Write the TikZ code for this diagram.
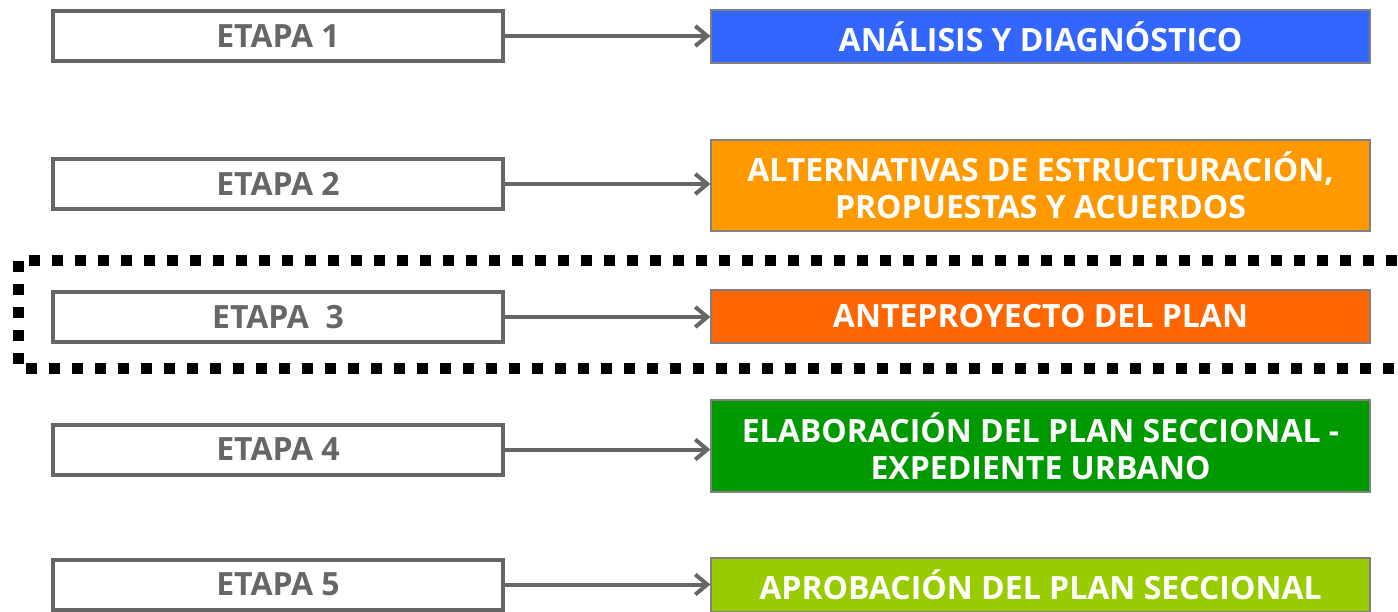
\documentclass[tikz,border=0pt]{standalone}
\usepackage{fontspec}
\setmainfont{Open Sans}
\usetikzlibrary{arrows.meta, positioning}

\begin{document}
\begin{tikzpicture}[x=1pt, y=-1pt, >={Straight Barb[length=12pt, width=20pt]}]

    % Define colors
    \definecolor{frame_gray}{RGB}{102, 102, 102}
    \definecolor{edge_gray}{RGB}{128, 128, 128}
    \definecolor{fase_blue}{RGB}{51, 102, 255}
    \definecolor{fase_orange}{RGB}{255, 153, 0}
    \definecolor{fase_red}{RGB}{255, 102, 0}
    \definecolor{fase_green}{RGB}{0, 153, 0}
    \definecolor{fase_lime}{RGB}{153, 204, 0}

    \tikzset{
        etapa/.style={draw=frame_gray, line width=4pt, minimum width=450pt, minimum height=50pt,
            inner sep=0pt, text=frame_gray, font=\fontsize{32}{37}\selectfont\bfseries},
        fase/.style={draw=edge_gray, line width=1.2pt, minimum width=659pt, inner sep=0pt,
            align=center, text=white, font=\fontsize{32}{37}\selectfont\bfseries},
        link/.style={->, draw=frame_gray, line width=4pt}
    }

    \useasboundingbox (0,0) rectangle (1398,611);

    % Dotted frame round stage 3
    \draw[black, line width=11pt, dash pattern=on 11pt off 12pt]
        (1420,260) -- (18,260) -- (18,368) -- (1420,368);

    % Stages
    \node[etapa] (e1) at (278,36) {ETAPA 1};
    \node[etapa] (e2) at (278,184) {ETAPA 2};
    \node[etapa] (e3) at (278,317) {ETAPA\ \ 3};
    \node[etapa] (e4) at (278,449.5) {ETAPA 4};
    \node[etapa] (e5) at (278,584.5) {ETAPA 5};

    % Phases
    \node[fase, fill=fase_blue, minimum height=53pt] (f1) at (1040.5,36.5) {ANÁLISIS Y DIAGNÓSTICO};
    \node[fase, fill=fase_orange, minimum height=91pt] (f2) at (1040.5,185.5)
        {ALTERNATIVAS DE ESTRUCTURACIÓN,\\PROPUESTAS Y ACUERDOS};
    \node[fase, fill=fase_red, minimum height=53pt] (f3) at (1040.5,316.5) {ANTEPROYECTO DEL PLAN};
    \node[fase, fill=fase_green, minimum height=92pt] (f4) at (1040.5,446)
        {ELABORACIÓN DEL PLAN SECCIONAL -\\EXPEDIENTE URBANO};
    \node[fase, fill=fase_lime, minimum height=54pt] (f5) at (1040.5,585) {APROBACIÓN DEL PLAN SECCIONAL};

    % Arrows
    \foreach \i in {1,...,5}
        \draw[link] (e\i.east) -- (e\i.east -| f\i.west);

\end{tikzpicture}
\end{document}
